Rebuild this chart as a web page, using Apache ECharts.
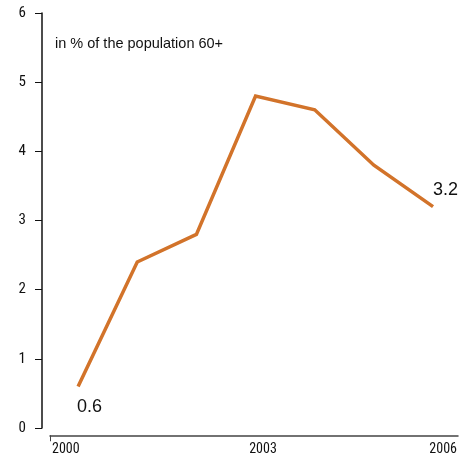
<!DOCTYPE html>
<html>
<head>
<meta charset="utf-8">
<script src="https://cdn.jsdelivr.net/npm/echarts@6/dist/echarts.min.js"></script>
<style>
  html, body { margin: 0; padding: 0; background: #fff; }
  #chart { width: 460px; height: 456px; }
</style>
</head>
<body>
<div id="chart"></div>
<script>
// Share of the population aged 60+, in percent
const years = [2000, 2001, 2002, 2003, 2004, 2005, 2006];
const shares = [0.6, 2.4, 2.8, 4.8, 4.6, 3.8, 3.2];
const yearTicks = [2000, 2003, 2006];
const valueTicks = [0, 1, 2, 3, 4, 5, 6];

const ink = '#111';
const lineColor = '#D2732A';
const narrow = '"Liberation Sans Narrow", "Roboto Condensed", "DejaVu Sans Condensed", sans-serif';

const points = years.map((y, i) => [y, shares[i]]);
const lastIdx = years.length - 1;

const chart = echarts.init(document.getElementById('chart'), null, { renderer: 'canvas' });

const endLabel = {
  show: true,
  formatter: (d) => d.value[1].toFixed(1),
  fontFamily: '"Liberation Sans", Arial, sans-serif',
  fontSize: 18,
  color: ink,
  opacity: 1
};

chart.setOption({
  animation: false,
  backgroundColor: '#fff',
  title: {
    text: 'in % of the population 60+',
    left: 50,
    top: 31,
    textStyle: {
      fontFamily: '"Liberation Sans", Arial, sans-serif',
      fontSize: 14.5,
      fontWeight: 'normal',
      color: ink
    }
  },
  grid: [
    { left: 42, right: 0, top: 13, bottom: 28 },
    { left: 50, right: 0, top: 435, height: 1 }
  ],
  xAxis: [
    {
      gridIndex: 0,
      type: 'value',
      min: 1999.39,
      max: 2006.456,
      show: false
    },
    {
      gridIndex: 1,
      type: 'value',
      min: yearTicks[0],
      max: yearTicks[yearTicks.length - 1],
      axisLine: { show: true, lineStyle: { color: '#444', width: 1.5 } },
      axisTick: { show: true, customValues: [yearTicks[0]], length: 6, lineStyle: { color: '#444', width: 1 } },
      splitLine: { show: false },
      axisLabel: {
        customValues: yearTicks,
        margin: 7,
        formatter: (v) => {
          if (v === yearTicks[0]) return '{a|' + v + '}';
          if (v === yearTicks[yearTicks.length - 1]) return '{c|' + v + '}';
          return '{b|' + v + '}';
        },
        rich: {
          a: { fontFamily: narrow, fontSize: 14, color: ink, align: 'left', padding: [0, 0, 0, 2] },
          b: { fontFamily: narrow, fontSize: 14, color: ink, padding: [0, 0, 0, 18] },
          c: { fontFamily: narrow, fontSize: 14, color: ink, align: 'right', padding: [0, 1, 0, 0] }
        },
        alignMinLabel: 'left',
        alignMaxLabel: 'right'
      }
    }
  ],
  yAxis: [
    {
      gridIndex: 0,
      type: 'value',
      min: valueTicks[0],
      max: valueTicks[valueTicks.length - 1],
      interval: 1,
      axisLine: { show: true, lineStyle: { color: ink, width: 1.5 } },
      axisTick: { show: true, length: 7, lineStyle: { color: ink, width: 1 } },
      splitLine: { show: false },
      axisLabel: {
        margin: 16,
        fontFamily: narrow,
        fontSize: 15,
        color: ink
      }
    },
    {
      gridIndex: 1,
      type: 'value',
      show: false
    }
  ],
  series: [
    {
      type: 'line',
      xAxisIndex: 0,
      yAxisIndex: 0,
      data: points.map((p, i) => {
        if (i === 0) {
          return {
            value: p,
            label: Object.assign({}, endLabel, { position: 'bottom', align: 'left', offset: [-1, 6] })
          };
        }
        if (i === lastIdx) {
          return {
            value: p,
            label: Object.assign({}, endLabel, { position: 'top', align: 'left', offset: [0, -2] })
          };
        }
        return { value: p };
      }),
      showSymbol: true,
      symbol: 'circle',
      symbolSize: 1,
      itemStyle: { color: 'rgba(0,0,0,0)' },
      lineStyle: { color: lineColor, width: 3.5, join: 'miter' },
      label: { show: false }
    }
  ]
});
</script>
</body>
</html>
